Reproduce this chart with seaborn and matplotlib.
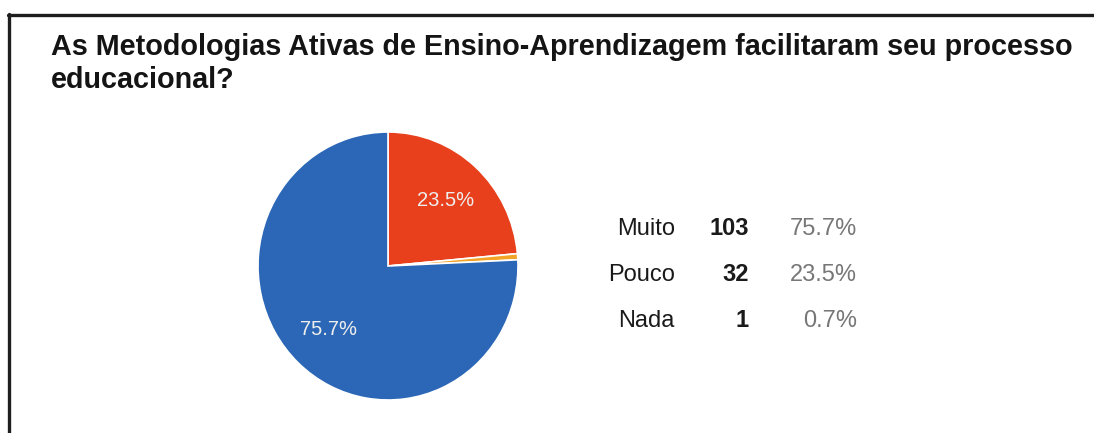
import matplotlib
matplotlib.use('Agg')
import matplotlib.pyplot as plt
import seaborn as sns
from matplotlib.lines import Line2D

sns.set_theme(style='white')
plt.rcParams['font.family'] = ['Liberation Sans', 'DejaVu Sans']

title_lines = ['As Metodologias Ativas de Ensino-Aprendizagem facilitaram seu processo',
               'educacional?']
answers = ['Muito', 'Pouco', 'Nada']
counts = [103, 32, 1]
colors = ['#2b67b6', '#e8401c', '#f2a428']

total = sum(counts)
percents = [100 * c / total for c in counts]

W, H = 1094, 433
fig = plt.figure(figsize=(W / 100, H / 100), dpi=100)
fig.patch.set_facecolor('white')

def fx(px):
    return px / W

def fy(py):
    return 1 - py / H

# frame (top and left edges)
fig.add_artist(Line2D([fx(8), fx(1094)], [fy(14.5), fy(14.5)], color='#1e1e1e', lw=2.4))
fig.add_artist(Line2D([fx(9), fx(9)], [fy(13.5), fy(433)], color='#1e1e1e', lw=2.4))

# title
fig.text(fx(51), fy(55), title_lines[0], fontsize=20.7, fontweight='bold',
         color='#141414', va='baseline', ha='left')
fig.text(fx(51), fy(88), title_lines[1], fontsize=20.7, fontweight='bold',
         color='#141414', va='baseline', ha='left')

# pie, drawn clockwise from 12 o'clock: Pouco, Nada, Muito
order = [1, 2, 0]
ax = fig.add_axes([fx(258), fy(400), fx(260), 268 / H])
wedges, texts, autotexts = ax.pie(
    [counts[i] for i in order],
    colors=[colors[i] for i in order],
    startangle=90,
    counterclock=False,
    autopct=lambda p: f'{p:.1f}%' if p >= 5 else '',
    pctdistance=0.66,
    wedgeprops=dict(edgecolor='white', linewidth=1.2),
    textprops=dict(color='#eeeeee', fontsize=14.5),
)
ax.set_aspect('auto')
ax.set_xlim(-1, 1)
ax.set_ylim(-1, 1)
ax.axis('off')

# legend table
rows_y = [235, 281, 327]
for name, n, p, y in zip(answers, counts, percents, rows_y):
    fig.text(fx(675), fy(y), name, fontsize=17, color='#1a1a1a', ha='right', va='baseline')
    fig.text(fx(749), fy(y), str(n), fontsize=17, fontweight='bold', color='#1a1a1a',
             ha='right', va='baseline')
    fig.text(fx(857), fy(y), f'{p:.1f}%', fontsize=17, color='#777777',
             ha='right', va='baseline')

fig.savefig('out.png', dpi=100)
plt.close(fig)
